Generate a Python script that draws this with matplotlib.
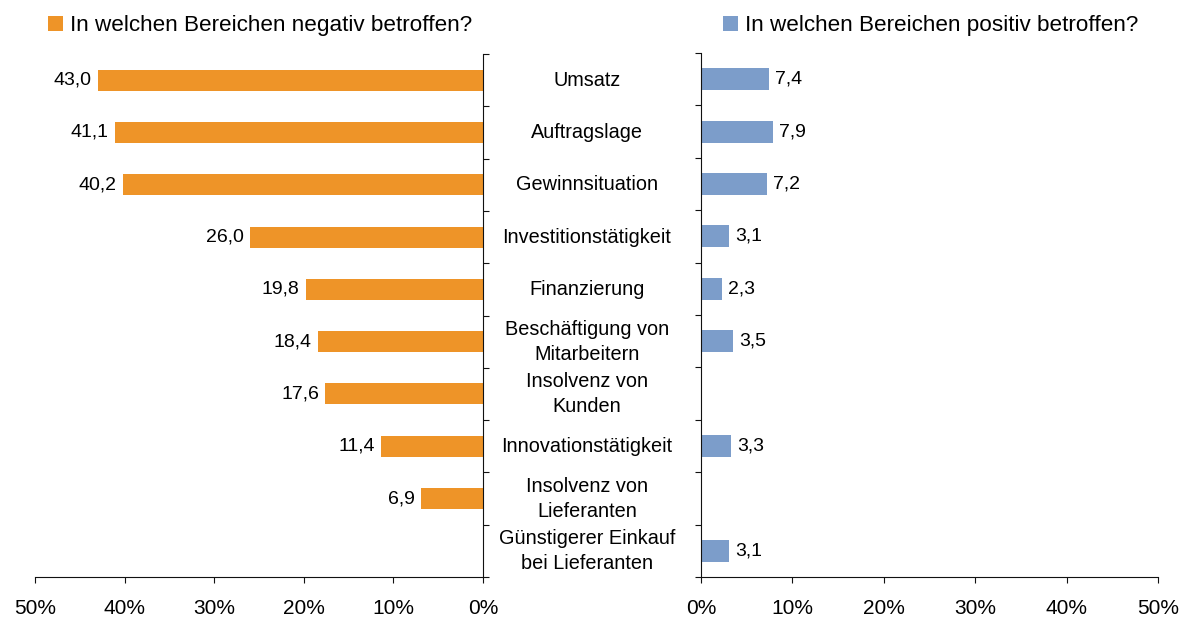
import matplotlib
matplotlib.use("Agg")
import matplotlib.pyplot as plt
import matplotlib.transforms as mtransforms
import numpy as np

plt.rcParams['font.family'] = ['Liberation Sans', 'DejaVu Sans']

categories = ["Umsatz", "Auftragslage", "Gewinnsituation", "Investitionstätigkeit",
              "Finanzierung", "Beschäftigung von\nMitarbeitern", "Insolvenz von\nKunden",
              "Innovationstätigkeit", "Insolvenz von\nLieferanten",
              "Günstigerer Einkauf\nbei Lieferanten"]
negativ = [43.0, 41.1, 40.2, 26.0, 19.8, 18.4, 17.6, 11.4, 6.9, np.nan]
positiv = [7.4, 7.9, 7.2, 3.1, 2.3, 3.5, np.nan, 3.3, np.nan, 3.1]
xticks = [0, 10, 20, 30, 40, 50]
xticklabels = ["0%", "10%", "20%", "30%", "40%", "50%"]
legend_neg = "In welchen Bereichen negativ betroffen?"
legend_pos = "In welchen Bereichen positiv betroffen?"

orange = "#EE9428"
blue = "#7C9DCA"

W, H = 1186, 621
fig = plt.figure(figsize=(W / 100, H / 100), dpi=100)

def rect(x0, x1, y0, y1):
    return [x0 / W, 1 - y1 / H, (x1 - x0) / W, (y1 - y0) / H]

axL = fig.add_axes(rect(35, 483, 54, 577))
axR = fig.add_axes(rect(701, 1158, 53, 577))

y = np.arange(len(categories))
fmt = lambda v: f"{v:.1f}".replace(".", ",")

axL.barh(y, negativ, height=0.4, color=orange, label=legend_neg)
axR.barh(y, positiv, height=0.42, color=blue, label=legend_pos)

for i, v in enumerate(negativ):
    if not np.isnan(v):
        axL.annotate(fmt(v), (v, i), xytext=(-4.5, 0), textcoords='offset points',
                     ha='right', va='center', fontsize=14)
for i, v in enumerate(positiv):
    if not np.isnan(v):
        axR.annotate(fmt(v), (v, i), xytext=(4.5, 0), textcoords='offset points',
                     ha='left', va='center', fontsize=14)

for ax in (axL, axR):
    ax.set_xlim(0, 50)
    ax.set_ylim(len(categories) - 0.5, -0.5)
    ax.set_xticks(xticks)
    ax.set_xticklabels(xticklabels, fontsize=15)
    ax.set_yticks(np.arange(-0.5, len(categories)))
    ax.set_yticklabels([])
    ax.spines['top'].set_visible(False)
    ax.tick_params(axis='both', direction='out', length=4.5, width=0.8, color='#111111')
    ax.tick_params(axis='x', pad=11)
    for s in ax.spines.values():
        s.set_linewidth(0.8)
        s.set_color('#111111')

axL.invert_xaxis()
axL.spines['left'].set_visible(False)
axL.yaxis.tick_right()
axR.spines['right'].set_visible(False)

trans = mtransforms.blended_transform_factory(fig.transFigure, axL.transData)
for i, c in enumerate(categories):
    fig.text(587 / W, i, c, transform=trans, ha='center', va='center',
             fontsize=14.3, linespacing=1.4)

axL.legend(loc='center left', bbox_to_anchor=(37 / W, 1 - 26 / H),
           bbox_transform=fig.transFigure, frameon=False, fontsize=16.2,
           handlelength=0.65, handleheight=0.65, handletextpad=0.3, borderpad=0)
axR.legend(loc='center left', bbox_to_anchor=(712 / W, 1 - 26 / H),
           bbox_transform=fig.transFigure, frameon=False, fontsize=16.2,
           handlelength=0.65, handleheight=0.65, handletextpad=0.3, borderpad=0)

fig.savefig("out.png", dpi=100)
